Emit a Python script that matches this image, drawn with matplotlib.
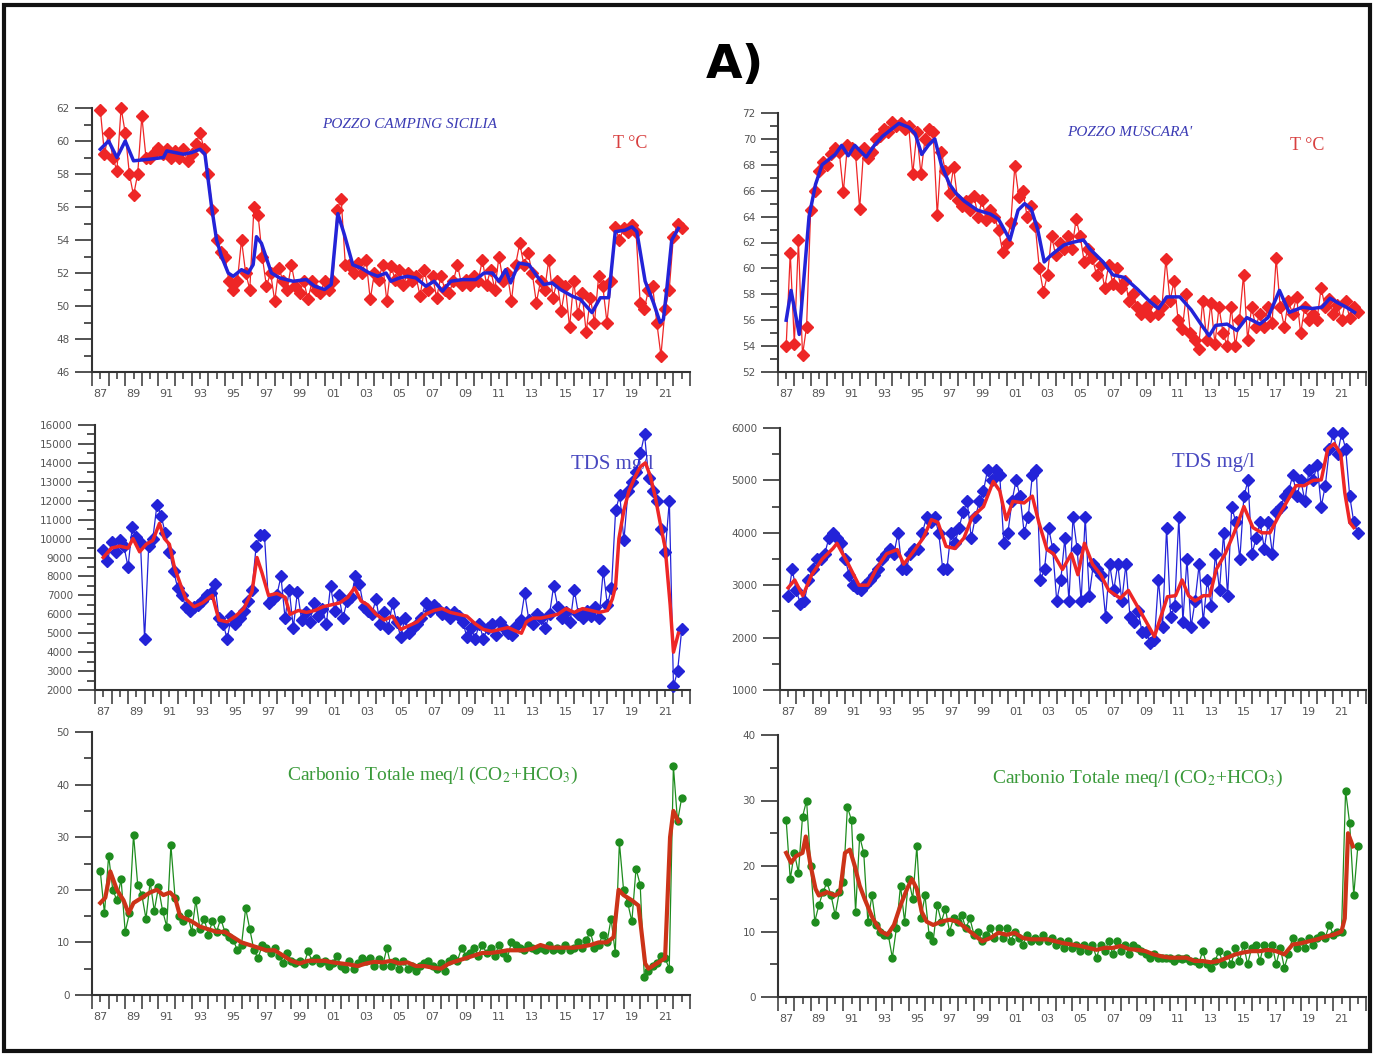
import numpy as np
import matplotlib
matplotlib.use('Agg')
from matplotlib import pyplot as plt
from matplotlib.patches import Rectangle
from matplotlib.ticker import FixedLocator, FuncFormatter, MultipleLocator

''' Data (quarterly samples from 1987.0, smoothed curves as knots) '''
t_sic = [61.9, 59.2, 60.5, 59.0,
         58.2, 62.0, 60.5, 58.0,
         56.7, 58.0, 61.5, 59.0,
         59.0, 59.3, 59.6, 59.2,
         59.5, 59.0, 59.4, 59.0,
         59.5, 58.8, 59.2, 59.8,
         60.5, 59.5, 58.0, 55.8,
         54.0, 53.3, 53.0, 51.5,
         51.0, 51.5, 54.0, 52.0,
         51.0, 56.0, 55.5, 53.0,
         51.2, 52.0, 50.3, 52.3,
         51.5, 51.0, 52.5, 51.2,
         50.8, 51.5, 50.4, 51.5,
         51.0, 50.8, 51.5, 51.0,
         51.5, 55.8, 56.5, 52.5,
         52.5, 52.0, 52.6, 52.0,
         52.8, 50.4, 52.0, 51.6,
         52.5, 50.3, 52.4, 51.6,
         52.2, 51.3, 52.0, 51.5,
         51.8, 50.6, 52.2, 51.0,
         51.8, 50.5, 51.8, 51.0,
         50.8, 51.5, 52.5, 51.3,
         51.6, 51.3, 51.8, 51.5,
         52.8, 51.3, 52.2, 51.0,
         53.0, 51.5, 52.0, 50.3,
         52.5, 53.8, 52.5, 53.2,
         52.0, 50.2, 51.5, 51.0,
         52.8, 50.5, 51.5, 49.7,
         51.2, 48.7, 51.5, 49.5,
         50.8, 48.4, 50.5, 49.0,
         51.8, 51.2, 49.0, 51.5,
         54.8, 54.0, 54.7, 54.5,
         54.9, 54.5, 50.2, 49.8,
         51.0, 51.2, 49.0, 47.0,
         49.8, 51.0, 54.2, 55.0,
         54.7]
t_sic_smooth = [(1987.0, 59.5), (1987.5, 60.0), (1988.0, 59.0), (1988.5, 60.0), (1989.0, 58.8),
                (1990.0, 58.9), (1990.8, 59.0), (1991.0, 59.4), (1992.0, 59.2), (1992.5, 59.3),
                (1993.0, 59.5), (1993.3, 59.2), (1993.7, 56.0), (1994.0, 54.0), (1994.3, 53.0),
                (1994.7, 52.0), (1995.0, 51.8), (1995.5, 52.2), (1995.9, 52.0), (1996.2, 52.5),
                (1996.4, 54.2), (1996.7, 53.8), (1997.3, 52.0), (1997.8, 51.7), (1998.6, 51.5),
                (1999.4, 51.6), (1999.9, 51.2), (2000.5, 51.0), (2000.9, 51.3), (2001.3, 55.6),
                (2001.7, 54.3), (2002.2, 52.5), (2002.7, 52.3), (2003.2, 52.0), (2003.7, 51.8),
                (2004.2, 52.0), (2004.5, 51.5), (2005.0, 51.7), (2005.5, 51.8), (2006.0, 51.7),
                (2006.6, 51.2), (2007.1, 51.5), (2007.6, 50.9), (2008.1, 51.5), (2008.8, 51.6),
                (2009.6, 51.6), (2010.1, 52.0), (2010.6, 52.0), (2011.0, 51.5), (2011.4, 52.2),
                (2011.7, 51.4), (2012.2, 52.6), (2012.8, 52.5), (2013.3, 51.8), (2013.7, 51.3),
                (2014.2, 51.4), (2014.7, 51.0), (2015.4, 50.6), (2015.9, 50.4), (2016.6, 49.6),
                (2017.1, 50.5), (2017.6, 50.5), (2018.0, 54.5), (2018.6, 54.6), (2019.0, 54.8),
                (2019.3, 54.5), (2019.8, 51.5), (2020.3, 50.2), (2020.7, 49.0), (2020.9, 49.2),
                (2021.1, 51.0), (2021.4, 54.0), (2021.8, 54.7)]

t_mus = [54.0, 61.2, 54.2, 62.2,
         53.3, 55.5, 64.5, 66.0,
         67.5, 68.2, 68.0, 68.8,
         69.3, 69.0, 65.9, 69.5,
         69.3, 68.8, 64.6, 69.3,
         68.5, 69.0, 70.0, 70.2,
         70.8, 70.5, 71.3, 71.0,
         71.2, 70.8, 71.0, 67.3,
         70.5, 67.3, 70.0, 70.8,
         70.5, 64.1, 69.0, 67.5,
         65.8, 67.8, 65.3, 64.8,
         65.2, 64.5, 65.6, 64.0,
         65.3, 63.7, 64.5, 64.0,
         63.0, 61.3, 62.0, 63.5,
         67.9, 65.5, 66.0, 64.0,
         64.8, 63.3, 60.0, 58.2,
         59.5, 62.5, 61.0, 62.0,
         61.5, 62.5, 61.5, 63.8,
         62.5, 60.5, 61.5, 60.8,
         59.5, 60.3, 58.5, 60.3,
         58.8, 60.0, 58.5, 59.0,
         57.5, 58.0, 57.0, 56.5,
         57.0, 56.3, 57.5, 56.5,
         57.0, 60.7, 57.5, 59.0,
         56.0, 55.3, 58.0, 55.0,
         54.5, 53.8, 57.5, 54.5,
         57.3, 54.2, 57.0, 55.0,
         54.0, 57.0, 54.0, 56.0,
         59.5, 54.5, 57.0, 55.5,
         56.5, 55.5, 57.0, 55.8,
         60.8, 57.0, 55.5, 57.5,
         56.5, 57.8, 55.0, 57.0,
         56.0, 56.5, 56.0, 58.5,
         57.0, 57.6, 56.5, 57.2,
         56.0, 57.5, 56.2, 57.0,
         56.6]
t_mus_smooth = [(1987.0, 56.0), (1987.3, 58.3), (1987.8, 54.9), (1988.4, 64.0), (1988.8, 66.5),
                (1989.2, 68.0), (1990.0, 68.8), (1990.4, 69.5), (1990.8, 68.7), (1991.2, 69.5),
                (1991.9, 68.6), (1992.4, 69.5), (1992.9, 70.2), (1993.4, 70.7), (1993.9, 71.2),
                (1994.5, 70.9), (1994.9, 70.4), (1995.3, 68.8), (1995.7, 69.5), (1996.1, 70.0),
                (1996.5, 68.0), (1997.0, 66.5), (1997.4, 65.8), (1997.9, 65.2), (1998.7, 64.5),
                (1999.5, 64.2), (2000.0, 63.8), (2000.7, 62.2), (2001.2, 64.5), (2001.6, 65.0),
                (2002.0, 64.6), (2002.4, 63.0), (2002.8, 60.5), (2003.2, 61.0), (2004.0, 61.8),
                (2004.5, 62.0), (2005.2, 62.2), (2005.6, 61.5), (2006.4, 60.5), (2007.0, 59.5),
                (2007.7, 59.3), (2008.5, 58.4), (2009.3, 57.4), (2009.8, 56.9), (2010.3, 57.8),
                (2011.1, 57.8), (2011.8, 56.8), (2012.5, 55.5), (2012.9, 54.8), (2013.3, 55.6),
                (2014.0, 55.7), (2014.6, 55.2), (2015.2, 56.2), (2016.0, 55.7), (2016.5, 56.2),
                (2017.2, 58.3), (2017.8, 56.6), (2018.6, 57.0), (2019.2, 56.9), (2019.8, 57.0),
                (2020.3, 57.7), (2020.7, 57.4), (2021.3, 57.0), (2021.8, 56.6)]

tds_sic = [9400, 8800, 9800, 9300,
           9900, 9600, 8500, 10600,
           10100, 9800, 4700, 9600,
           10000, 11800, 11200, 10300,
           9300, 8300, 7400, 7000,
           6400, 6200, 6400, 6500,
           6700, 7000, 7100, 7600,
           5800, 5500, 4700, 5900,
           5500, 5800, 6200, 6700,
           7300, 9600, 10200, 10200,
           6600, 6800, 7000, 8000,
           5800, 7300, 5300, 7200,
           5700, 6100, 5600, 6600,
           5900, 6300, 5500, 7500,
           6200, 7000, 5800, 6700,
           6900, 8000, 7600, 6400,
           6200, 6000, 6800, 5500,
           6100, 5300, 6600, 5600,
           4800, 5800, 5000, 5300,
           5500, 5800, 6600, 6200,
           6500, 6300, 6000, 6100,
           5800, 6100, 5900, 5600,
           4800, 5300, 4700, 5500,
           4700, 5300, 5500, 4900,
           5600, 5300, 5000, 4900,
           5400, 5700, 7100, 5700,
           5500, 6000, 5800, 5300,
           6000, 7500, 6400, 5800,
           6100, 5600, 7300, 6000,
           5800, 6200, 5900, 6400,
           5800, 8300, 6500, 7400,
           11500, 12300, 9900, 12500,
           13000, 13500, 14500, 15500,
           13200, 12500, 12000, 10500,
           9300, 12000, 2200, 3000,
           5200]
tds_sic_smooth = [(1987.0, 9000), (1987.5, 9500), (1988.0, 9600), (1988.5, 9500), (1988.8, 10000),
                  (1989.2, 9300), (1989.6, 9700), (1990.0, 9900), (1990.4, 10800), (1990.7, 10000),
                  (1991.0, 9700), (1991.3, 8500), (1991.7, 7500), (1992.0, 6800), (1992.5, 6400),
                  (1993.0, 6600), (1993.3, 6800), (1993.6, 7000), (1994.0, 5700), (1994.5, 5600),
                  (1995.0, 5900), (1995.5, 6300), (1996.0, 7200), (1996.3, 9000), (1996.6, 8200),
                  (1997.0, 7000), (1997.5, 7100), (1998.0, 6900), (1998.3, 6000), (1998.8, 6200),
                  (1999.3, 6100), (1999.8, 6200), (2000.3, 6400), (2000.8, 6500), (2001.3, 6600),
                  (2001.8, 6900), (2002.2, 7400), (2002.6, 6700), (2003.0, 6500), (2003.5, 6000),
                  (2004.0, 5700), (2004.5, 5900), (2005.0, 5200), (2005.5, 5400), (2006.0, 5600),
                  (2006.5, 6000), (2007.0, 6200), (2007.5, 6300), (2008.0, 6100), (2008.5, 6000),
                  (2009.0, 5900), (2009.5, 5500), (2010.0, 5200), (2010.5, 5100), (2011.0, 5200),
                  (2011.5, 5300), (2012.0, 5100), (2012.3, 5000), (2012.6, 5600), (2013.0, 5800),
                  (2013.5, 5800), (2014.0, 5900), (2014.5, 6000), (2015.0, 6300), (2015.5, 6100),
                  (2016.0, 6300), (2016.5, 6200), (2017.0, 6100), (2017.5, 6200), (2017.8, 6800),
                  (2018.0, 7500), (2018.2, 10000), (2018.5, 11500), (2018.8, 12500), (2019.2, 13300),
                  (2019.5, 13800), (2019.8, 14000), (2020.1, 13300), (2020.4, 12200), (2020.7, 10800),
                  (2021.0, 9500), (2021.3, 6500), (2021.5, 4000), (2021.8, 5000)]

tds_mus = [2800, 3300, 2900, 2650,
           2700, 3100, 3300, 3500,
           3500, 3600, 3900, 4000,
           3900, 3800, 3500, 3200,
           3000, 2950, 2900, 3000,
           3100, 3200, 3300, 3500,
           3600, 3700, 3600, 4000,
           3300, 3300, 3600, 3700,
           3700, 4000, 4300, 4200,
           4300, 4000, 3300, 3300,
           4000, 3800, 4100, 4400,
           4600, 3900, 4300, 4600,
           4800, 5200, 5000, 5200,
           5100, 3800, 4000, 4600,
           5000, 4700, 4000, 4300,
           5100, 5200, 3100, 3300,
           4100, 3700, 2700, 3100,
           3900, 2700, 4300, 3700,
           2700, 4300, 2800, 3400,
           3300, 3200, 2400, 3400,
           2900, 3400, 2700, 3400,
           2400, 2300, 2500, 2100,
           2100, 1900, 1950, 3100,
           2200, 4100, 2400, 2600,
           4300, 2300, 3500, 2200,
           2700, 3400, 2300, 3100,
           2600, 3600, 2900, 4000,
           2800, 4500, 4200, 3500,
           4700, 5000, 3600, 3900,
           4200, 3700, 4200, 3600,
           4400, 4500, 4700, 4800,
           5100, 4700, 5000, 4600,
           5200, 5000, 5300, 4500,
           4900, 5600, 5900, 5500,
           5900, 5600, 4700, 4200,
           4000]
tds_mus_smooth = [(1987.0, 2950), (1987.4, 3100), (1987.9, 2800), (1988.45, 3200), (1989.1, 3500),
                  (1989.75, 3700), (1990.0, 3800), (1990.7, 3400), (1991.35, 3000), (1991.9, 3000),
                  (1992.4, 3300), (1993.05, 3600), (1993.7, 3680), (1994.1, 3400), (1994.6, 3600),
                  (1995.3, 3900), (1995.8, 4250), (1996.2, 4200), (1996.7, 3740), (1997.25, 3700),
                  (1997.8, 3900), (1998.3, 4300), (1999.0, 4500), (1999.6, 4980), (2000.0, 4800),
                  (2000.4, 4250), (2000.8, 4600), (2001.5, 4570), (2002.0, 4700), (2002.4, 4200),
                  (2002.9, 3680), (2003.3, 3600), (2003.85, 3300), (2004.4, 3600), (2004.8, 3200),
                  (2005.2, 3800), (2005.7, 3400), (2006.2, 3200), (2006.7, 2900), (2007.4, 2750),
                  (2007.9, 2900), (2008.45, 2600), (2009.0, 2300), (2009.5, 2020), (2009.9, 2400),
                  (2010.3, 2780), (2010.8, 2800), (2011.2, 3100), (2011.6, 2800), (2012.0, 2700),
                  (2012.5, 2800), (2012.9, 2800), (2013.3, 3300), (2013.85, 3600), (2014.4, 4000),
                  (2015.0, 4500), (2015.55, 4100), (2016.1, 4000), (2016.6, 4000), (2017.1, 4300),
                  (2017.65, 4600), (2018.2, 4900), (2018.7, 4900), (2019.25, 5000), (2019.75, 5010),
                  (2020.15, 5600), (2020.55, 5700), (2020.95, 5500), (2021.2, 4760), (2021.5, 4200),
                  (2021.75, 4100)]

carb_sic = [23.5, 15.5, 26.5, 20.0,
            18.0, 22.0, 12.0, 15.5,
            30.5, 21.0, 19.0, 14.5,
            21.5, 16.0, 20.5, 16.0,
            13.0, 28.5, 18.5, 15.0,
            14.0, 15.5, 12.0, 18.0,
            12.5, 14.5, 11.5, 14.0,
            12.0, 14.5, 12.0, 11.0,
            10.5, 8.5, 9.5, 16.5,
            12.5, 8.5, 7.0, 9.5,
            9.0, 8.0, 9.0, 7.5,
            6.0, 8.0, 6.5, 6.0,
            6.5, 5.8, 8.3, 6.5,
            7.0, 6.0, 6.5, 5.5,
            6.0, 7.5, 5.5, 5.0,
            6.5, 5.0, 6.0, 7.0,
            6.5, 7.0, 5.5, 6.8,
            5.5, 9.0, 5.5, 6.5,
            5.0, 6.5, 5.0, 5.5,
            4.5, 5.5, 6.0, 6.5,
            5.5, 5.0, 6.0, 4.5,
            6.5, 7.0, 6.5, 9.0,
            7.5, 8.0, 9.0, 7.5,
            9.5, 8.0, 9.0, 7.5,
            9.5, 8.0, 7.0, 10.0,
            9.5, 9.0, 8.5, 9.5,
            9.0, 8.5, 9.0, 8.5,
            9.5, 8.5, 9.0, 8.5,
            9.5, 8.5, 9.0, 10.0,
            9.0, 10.5, 12.0, 9.0,
            9.5, 11.5, 10.0, 14.5,
            8.0, 29.0, 20.0, 17.5,
            14.0, 24.0, 21.0, 3.5,
            4.5, 5.5, 6.0, 7.5,
            7.0, 5.0, 43.5, 33.0,
            37.5]
carb_sic_smooth = [(1987.0, 17.5), (1987.3, 18.5), (1987.6, 23.5), (1988.0, 20.0), (1988.4, 18.0),
                   (1988.7, 15.5), (1989.0, 17.5), (1989.5, 18.5), (1990.0, 19.5), (1990.4, 20.0),
                   (1990.8, 19.0), (1991.2, 19.5), (1991.5, 18.5), (1991.8, 15.0), (1992.5, 14.0),
                   (1993.0, 13.0), (1993.5, 12.5), (1994.0, 12.0), (1994.5, 12.0), (1995.0, 11.0),
                   (1995.5, 10.0), (1996.0, 9.5), (1996.5, 9.0), (1997.0, 8.5), (1997.5, 8.5),
                   (1998.0, 7.5), (1998.5, 6.5), (1999.0, 6.0), (1999.5, 6.5), (2000.0, 6.5),
                   (2000.5, 6.5), (2001.0, 6.2), (2001.5, 6.0), (2002.0, 5.8), (2002.5, 5.5),
                   (2003.0, 6.0), (2003.5, 6.3), (2004.0, 6.2), (2004.5, 6.5), (2005.0, 6.0),
                   (2005.5, 6.2), (2006.0, 5.5), (2006.5, 5.5), (2007.0, 5.2), (2007.5, 5.0),
                   (2008.0, 6.0), (2008.5, 6.5), (2009.0, 7.0), (2009.5, 7.5), (2010.0, 8.0),
                   (2010.5, 8.0), (2011.0, 8.2), (2011.5, 8.5), (2012.0, 8.5), (2012.5, 8.5),
                   (2013.0, 8.8), (2013.5, 9.5), (2014.0, 9.0), (2014.5, 9.0), (2015.0, 9.0),
                   (2015.5, 9.0), (2016.0, 9.2), (2016.5, 9.5), (2017.0, 10.0), (2017.5, 10.0),
                   (2017.9, 11.0), (2018.2, 20.0), (2018.5, 19.0), (2019.0, 18.0), (2019.4, 17.0),
                   (2019.8, 6.0), (2020.0, 5.0), (2020.5, 6.0), (2021.0, 7.0), (2021.3, 30.0),
                   (2021.5, 35.0), (2021.8, 33.0)]

carb_mus = [27.0, 18.0, 22.0, 19.0,
            27.5, 30.0, 20.0, 11.5,
            14.0, 16.0, 17.5, 15.5,
            12.5, 16.0, 17.5, 29.0,
            27.0, 13.0, 24.5, 22.0,
            11.5, 15.5, 11.0, 10.0,
            9.5, 9.5, 6.0, 10.5,
            17.0, 11.5, 18.0, 15.0,
            23.0, 12.0, 15.5, 9.5,
            8.5, 14.0, 11.5, 13.5,
            10.0, 12.0, 11.5, 12.5,
            10.5, 12.0, 9.5, 10.0,
            8.5, 9.5, 10.5, 9.0,
            10.5, 9.0, 10.5, 8.5,
            10.0, 9.0, 8.0, 9.5,
            8.5, 9.0, 8.5, 9.5,
            8.5, 9.0, 8.0, 8.5,
            7.5, 8.5, 7.5, 8.0,
            7.0, 8.0, 7.0, 8.0,
            6.0, 8.0, 7.0, 8.5,
            6.5, 8.5, 7.0, 8.0,
            6.5, 8.0, 7.5, 7.0,
            6.5, 6.0, 6.5, 6.0,
            6.0, 6.0, 6.0, 5.5,
            6.0, 5.8, 6.0, 5.5,
            5.5, 5.0, 7.0, 5.0,
            4.5, 5.5, 7.0, 5.0,
            6.5, 5.0, 7.5, 5.5,
            8.0, 5.0, 7.5, 8.0,
            5.5, 8.0, 6.5, 8.0,
            5.0, 7.5, 4.5, 6.5,
            9.0, 7.5, 8.5, 7.5,
            9.0, 8.0, 9.0, 9.5,
            9.0, 11.0, 9.5, 10.0,
            10.0, 31.5, 26.5, 15.5,
            23.0]
carb_mus_smooth = [(1987.0, 22.0), (1987.3, 20.5), (1987.6, 21.5), (1988.0, 22.0), (1988.2, 24.5),
                   (1988.5, 20.0), (1988.8, 16.5), (1989.0, 15.5), (1989.5, 16.0), (1990.0, 15.5),
                   (1990.3, 16.0), (1990.6, 22.0), (1990.9, 22.5), (1991.2, 20.0), (1991.5, 17.0),
                   (1991.8, 15.0), (1992.3, 12.0), (1992.8, 10.0), (1993.2, 9.5), (1993.6, 11.0),
                   (1994.0, 14.0), (1994.4, 16.5), (1994.7, 18.0), (1995.0, 16.5), (1995.3, 13.0),
                   (1995.6, 11.5), (1996.0, 11.0), (1996.5, 11.5), (1997.0, 11.8), (1997.5, 11.5),
                   (1998.0, 10.5), (1998.5, 9.5), (1999.0, 8.5), (1999.5, 9.0), (2000.0, 9.8),
                   (2000.5, 9.5), (2001.0, 9.8), (2001.5, 9.0), (2002.0, 8.8), (2002.5, 8.8),
                   (2003.0, 8.8), (2003.5, 8.5), (2004.0, 8.2), (2004.5, 8.0), (2005.0, 7.8),
                   (2005.5, 7.5), (2006.0, 7.2), (2006.5, 7.5), (2007.0, 7.5), (2007.5, 7.8),
                   (2008.0, 7.3), (2008.5, 7.2), (2009.0, 7.0), (2009.5, 6.5), (2010.0, 6.2),
                   (2010.5, 6.0), (2011.0, 6.0), (2011.5, 6.0), (2012.0, 5.5), (2012.5, 5.5),
                   (2013.0, 5.3), (2013.5, 5.5), (2014.0, 6.0), (2014.5, 6.5), (2015.0, 6.8),
                   (2015.5, 7.0), (2016.0, 7.0), (2016.5, 7.2), (2017.0, 7.0), (2017.5, 6.5),
                   (2018.0, 8.0), (2018.5, 8.2), (2019.0, 8.5), (2019.5, 8.8), (2020.0, 9.2),
                   (2020.5, 9.5), (2021.0, 10.0), (2021.2, 12.0), (2021.4, 25.0), (2021.7, 23.0)]

year_labels = ['87', '89', '91', '93', '95', '97', '99', '01', '03', '05', '07', '09',
               '11', '13', '15', '17', '19', '21']

''' Figure setup '''
W, H = 1374, 1055
plt.rcParams['font.family'] = ['Liberation Serif', 'DejaVu Serif']
plt.rcParams['mathtext.fontset'] = 'stix'
fig = plt.figure(figsize=(W / 100, H / 100), dpi=100)
fig.patch.set_facecolor('white')
fig.patches.append(Rectangle((4 / W, 4 / H), 1366 / W, 1046 / H, transform=fig.transFigure,
                             fill=False, lw=3, ec='#111111'))


def px_box(l, t, r, b):
    return [l / W, 1 - b / H, (r - l) / W, (b - t) / H]


def px_text(ax, x, y, s, **kw):
    ax.text(x / W, 1 - y / H, s, transform=fig.transFigure, ha='center', va='center',
            zorder=1, **kw)


def setup_axis(ax, ylo, yhi, ymaj, ymin):
    ax.set_xlim(1986.5, 2022.5)
    ax.set_ylim(ylo, yhi)
    for s in ['top', 'right']:
        ax.spines[s].set_visible(False)
    for s in ['left', 'bottom']:
        ax.spines[s].set_linewidth(1.5)
        ax.spines[s].set_color('#333333')
    ax.yaxis.set_major_locator(MultipleLocator(ymaj))
    ax.yaxis.set_minor_locator(MultipleLocator(ymin))
    ax.yaxis.set_major_formatter(FuncFormatter(lambda v, p: '%d' % v))
    ax.xaxis.set_major_locator(FixedLocator(np.arange(1987, 2023)))
    ax.xaxis.set_minor_locator(FixedLocator(np.arange(1986.5, 2023, 1.0)))
    lab = dict(zip(range(1987, 2023, 2), year_labels))
    ax.xaxis.set_major_formatter(FuncFormatter(lambda v, p: lab.get(int(round(v)), '')))
    ax.tick_params(axis='y', which='major', direction='out', length=12, width=1.3,
                   color='#444444', labelsize=7.5, labelcolor='#555555', pad=4)
    ax.tick_params(axis='y', which='minor', direction='out', length=6, width=1.3,
                   color='#444444')
    ax.tick_params(axis='x', which='major', direction='out', length=5, width=1.2,
                   color='#444444', labelsize=8, labelcolor='#555555', pad=7)
    ax.tick_params(axis='x', which='minor', direction='out', length=10, width=1.2,
                   color='#444444')
    for lbl in ax.get_xticklabels() + ax.get_yticklabels():
        lbl.set_family('DejaVu Sans')


def draw(ax, raw, smooth, rc, sc, marker, ms, slw):
    tx = 1987 + 0.25 * np.arange(len(raw))
    ax.plot(tx, raw, color=rc, lw=0.9, marker=marker, ms=ms, mec=rc, mfc=rc,
            zorder=2, clip_on=False)
    sx, sy = zip(*smooth)
    ax.plot(sx, sy, color=sc, lw=slw, zorder=3, clip_on=False)


red = '#ee2626'
blue = '#2323d8'
green = '#1e8c1e'
brown = '#cc3318'

ax1 = fig.add_axes(px_box(92, 108, 690, 372))
setup_axis(ax1, 46, 62, 2, 1)
draw(ax1, t_sic, t_sic_smooth, red, blue, 'D', 6, 2.5)
px_text(ax1, 410, 125, 'POZZO CAMPING SICILIA', color='#3a3ab4', fontsize=11, style='italic')
px_text(ax1, 630, 143, 'T °C', color='#d84040', fontsize=13)

ax2 = fig.add_axes(px_box(778, 113, 1366, 372))
setup_axis(ax2, 52, 72, 2, 1)
draw(ax2, t_mus, t_mus_smooth, red, blue, 'D', 6, 2.5)
px_text(ax2, 1130, 133, "POZZO MUSCARA'", color='#3a3ab4', fontsize=11, style='italic')
px_text(ax2, 1307, 145, 'T °C', color='#d84040', fontsize=13)

ax3 = fig.add_axes(px_box(95, 425, 690, 690))
setup_axis(ax3, 2000, 16000, 1000, 500)
draw(ax3, tds_sic, tds_sic_smooth, blue, red, 'D', 6, 2.5)
px_text(ax3, 612, 465, 'TDS mg/l', color='#4848c0', fontsize=15)

ax4 = fig.add_axes(px_box(780, 428, 1366, 690))
setup_axis(ax4, 1000, 6000, 1000, 500)
draw(ax4, tds_mus, tds_mus_smooth, blue, red, 'D', 6, 2.5)
px_text(ax4, 1213, 462, 'TDS mg/l', color='#4848c0', fontsize=15)

ax5 = fig.add_axes(px_box(92, 732, 690, 995))
setup_axis(ax5, 0, 50, 10, 5)
draw(ax5, carb_sic, carb_sic_smooth, green, brown, 'o', 5, 3.0)
px_text(ax5, 432, 775, 'Carbonio Totale meq/l (CO$_2$+HCO$_3$)', color='#3a9a3a', fontsize=14)

ax6 = fig.add_axes(px_box(778, 735, 1366, 997))
setup_axis(ax6, 0, 40, 10, 5)
draw(ax6, carb_mus, carb_mus_smooth, green, brown, 'o', 5, 3.0)
px_text(ax6, 1137, 778, 'Carbonio Totale meq/l (CO$_2$+HCO$_3$)', color='#3a9a3a', fontsize=14)

fig.text(735 / W, 1 - 65 / H, 'A)', ha='center', va='center', fontsize=34,
         fontweight='bold', family='DejaVu Sans')

plt.savefig('out.png', dpi=100, facecolor='white')
